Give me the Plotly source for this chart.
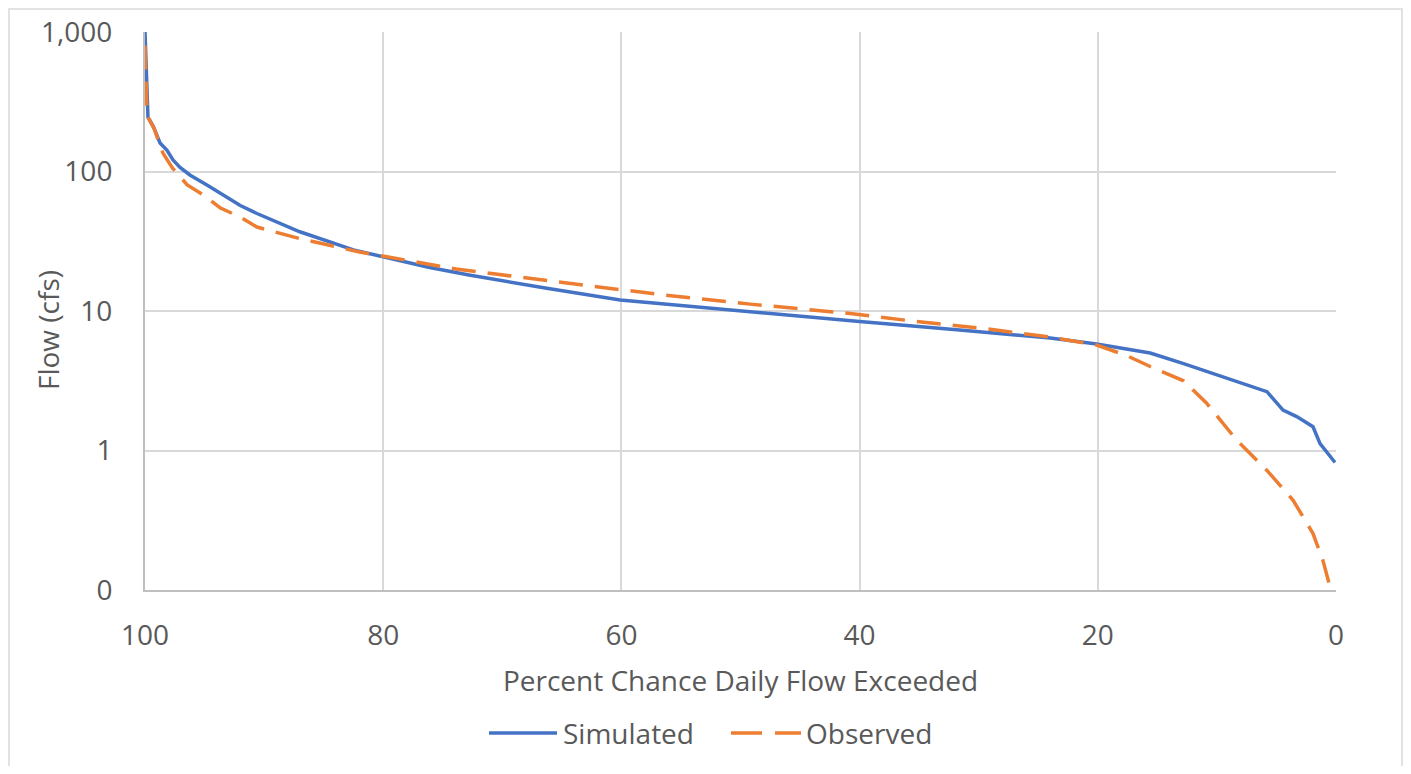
import plotly.graph_objects as go

# Simulated flow-duration curve (percent exceeded, flow cfs)
sim_x = [100, 99.86, 99.75, 99.3, 98.74, 98.15, 97.65, 97.06, 96.2, 94.8, 93.45, 92.0, 90.6,
         87.0, 82.5, 80.3, 76.2, 72.8, 66.4, 60.1, 52.6, 46.5, 40.0, 31.6, 24.0, 20.1, 15.6,
         12.8, 8.65, 5.8, 4.45, 3.3, 1.93, 1.34, 0.08]
sim_y = [1000, 535, 245, 210, 160, 142, 121, 107, 94, 80, 68, 57, 50,
         37, 27.4, 24.8, 20.6, 18.1, 14.6, 12.0, 10.45, 9.4, 8.4, 7.3, 6.4, 5.8, 5.0,
         4.2, 3.2, 2.64, 1.95, 1.75, 1.48, 1.12, 0.82]

# Observed flow-duration curve
obs_x = [100, 99.95, 99.85, 99.75, 99.2, 98.9, 98.5, 97.7, 96.45, 95.1, 93.7, 92.0, 90.6,
         87.0, 82.0, 79.7, 75.0, 73.9, 63.4, 56.3, 49.2, 40.8, 35.2, 29.6, 24.0, 20.1, 17.6,
         15.6, 12.8, 10.9, 8.35, 5.8, 3.6, 1.93, 1.1, 0.5, 0.1]
obs_y = [800, 500, 300, 245, 200, 168, 136, 106, 80, 68, 55, 47, 40,
         33, 26.5, 24.5, 21, 20, 15.4, 13.0, 11.2, 9.6, 8.4, 7.5, 6.5, 5.7, 4.8,
         4.0, 3.16, 2.2, 1.19, 0.72, 0.44, 0.254, 0.163, 0.105, 0.1]

series_names = ["Simulated", "Observed"]
series_colors = ["#4472C4", "#ED7D31"]

x_ticks = [100, 80, 60, 40, 20, 0]
y_tickvals = [0.1, 1, 10, 100, 1000]
y_ticktext = ["0", "1", "10", "100", "1,000"]

FONT = "Open Sans"
TXT = "#595959"
FS = 28

W, H = 1395, 758
L, T = 137, 24
PW, PH = 1191, 558
OFF = 8  # page body margin


def px(page_x):
    return (page_x - OFF - L) / PW


def py(page_y):
    return (T + PH - (page_y - OFF)) / PH


fig = go.Figure()
fig.add_trace(go.Scatter(x=sim_x, y=sim_y, mode="lines", name=series_names[0], showlegend=False,
                         line=dict(color=series_colors[0], width=3.5)))
fig.add_trace(go.Scatter(x=obs_x, y=obs_y, mode="lines", name=series_names[1], showlegend=False,
                         line=dict(color=series_colors[1], width=3.5, dash="24px,12px")))

leg_y = py(733)
shapes = [
    dict(type="rect", xref="paper", yref="paper",
         x0=px(9), x1=px(1402), y0=py(800), y1=py(9),
         line=dict(color="#d9d9d9", width=1.5), fillcolor="rgba(0,0,0,0)", layer="below"),
    dict(type="line", xref="paper", yref="paper", x0=px(489), x1=px(557), y0=leg_y, y1=leg_y,
         line=dict(color=series_colors[0], width=3.5)),
    dict(type="line", xref="paper", yref="paper", x0=px(731), x1=px(801), y0=leg_y, y1=leg_y,
         line=dict(color=series_colors[1], width=3.5, dash="31px,13px")),
]
annotations = [
    dict(text="Flow (cfs)", xref="paper", yref="paper", x=px(48), y=py(330), textangle=-90,
         showarrow=False, xanchor="center", yanchor="middle",
         font=dict(size=FS, color=TXT, family=FONT)),
    dict(text=series_names[0], xref="paper", yref="paper", x=px(561), y=leg_y,
         showarrow=False, xanchor="left", yanchor="middle",
         font=dict(size=FS, color=TXT, family=FONT)),
    dict(text=series_names[1], xref="paper", yref="paper", x=px(804), y=leg_y,
         showarrow=False, xanchor="left", yanchor="middle",
         font=dict(size=FS, color=TXT, family=FONT)),
]

fig.update_layout(
    width=W, height=H,
    margin=dict(l=L, r=W - L - PW, t=T, b=H - T - PH, autoexpand=False),
    paper_bgcolor="white", plot_bgcolor="white",
    font=dict(family=FONT, color=TXT, size=FS),
    showlegend=False,
    xaxis=dict(range=[100, 0], tickvals=x_ticks, ticktext=[str(v) for v in x_ticks],
               showgrid=True, gridcolor="#d9d9d9", gridwidth=1.5, automargin=False,
               showline=True, linecolor="#bfbfbf", linewidth=2, zeroline=False,
               ticks="", ticklabelstandoff=19, tickfont=dict(size=FS, color=TXT),
               title=dict(text="Percent Chance Daily Flow Exceeded", standoff=20,
                          font=dict(size=FS, color=TXT))),
    yaxis=dict(type="log", range=[-1, 3], tickvals=y_tickvals, ticktext=y_ticktext,
               showgrid=True, gridcolor="#d9d9d9", gridwidth=1.5, automargin=False,
               showline=True, linecolor="#bfbfbf", linewidth=2, zeroline=False,
               ticks="", ticklabelstandoff=25, tickfont=dict(size=FS, color=TXT)),
    shapes=shapes,
    annotations=annotations,
)

fig.write_html("out.html")
